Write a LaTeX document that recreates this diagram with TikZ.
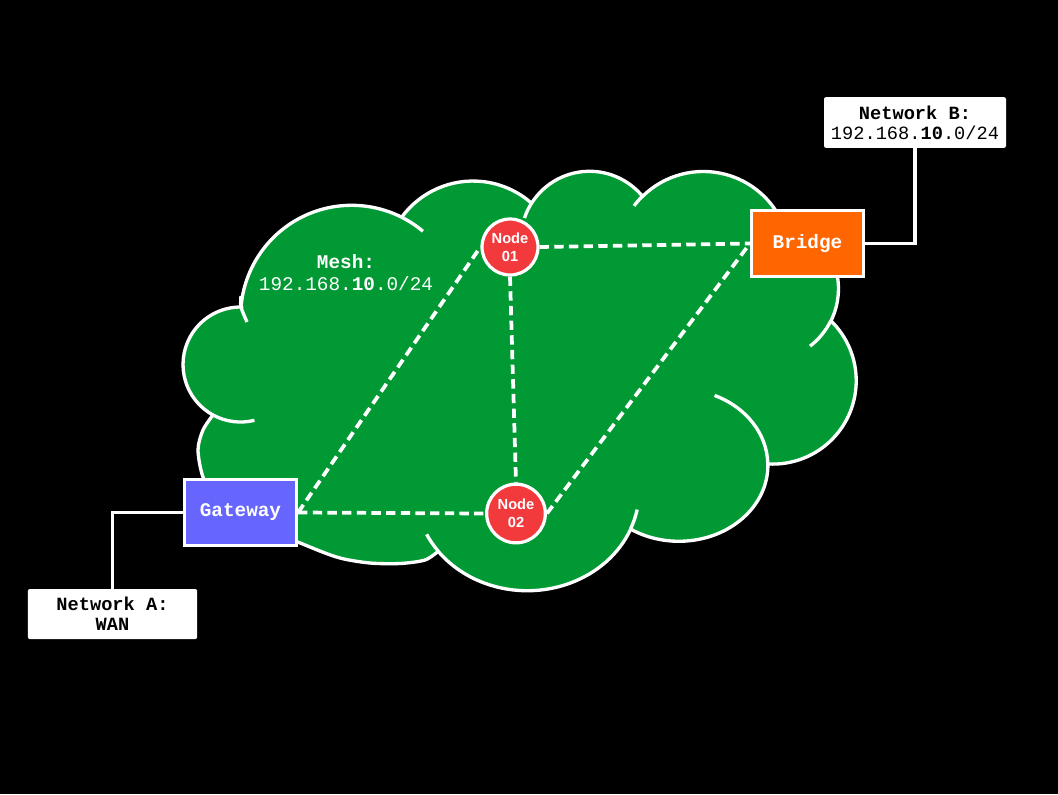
\documentclass[tikz,border=0pt]{standalone}
\usepackage{fontspec}
\setmonofont{Liberation Mono}
\setsansfont{Liberation Sans}
\usepackage{tikz}
\usetikzlibrary{positioning}

\definecolor{meshgreen}{HTML}{009933}
\definecolor{nodered}{HTML}{F23A3C}
\definecolor{gwblue}{HTML}{6666FF}
\definecolor{bridgeorange}{HTML}{FF6600}

\tikzset{
  devbox/.style={draw=white, line width=2.4pt, text=white, font=\ttfamily\bfseries\fontsize{14.5}{17}\selectfont, minimum width=84pt, minimum height=49pt, inner sep=0pt},
  meshnode/.style={circle, draw=white, line width=2.4pt, fill=nodered, text=white, font=\sffamily\bfseries\fontsize{11}{13.7}\selectfont, align=center, inner sep=0pt},
  netlabel/.style={fill=white, rounded corners=1.5pt, text=black, font=\ttfamily\fontsize{14}{15}\selectfont, align=center, inner sep=0pt},
  link/.style={draw=white, line width=2.8pt, dash pattern=on 7pt off 4pt},
  wire/.style={draw=white, line width=2.4pt},
  lobe/.style={draw=white, line width=2.5pt},
}

\begin{document}
\begin{tikzpicture}[x=0.75pt, y=-0.75pt]
    % Background
    \fill[black] (0,0) rectangle (1058,794);

    % Draw cloud
    \filldraw[fill=meshgreen, lobe, line join=round] (241,307)
      arc[start angle=184.8, end angle=296.8, radius=111]
      arc[start angle=216.2, end angle=311.5, radius=88.4]
      arc[start angle=212.3, end angle=320.6, radius=68.6]
      arc[start angle=225.5, end angle=331.7, radius=86.7]
      arc[start angle=281.2, end angle=386.2, radius=73]
      arc[start angle=-45.8, end angle=93.4, radius=83.4]
      arc[start angle=-1, end angle=122.8, x radius=89, y radius=76]
      arc[start angle=22.6, end angle=142.6, x radius=112, y radius=100]
      -- plot [smooth] coordinates {(438.3,551.2) (425,560) (400,563.5) (370,563) (340,558) (310,547) (260,525) (215,495) (203,477) (198,450) (203,430) (213,415)}
      arc[start angle=118.6, end angle=271.5, radius=57.5]
      -- cycle;

    % Inner ends of the lobes
    \draw[lobe] plot [smooth] coordinates {(241,296) (241,307) (247,322)};
    \draw[lobe] (401.6,217.2) arc[start angle=296.8, end angle=310, radius=111];
    \draw[lobe] (531.5,203.2) arc[start angle=212.3, end angle=198.6, radius=68.6];
    \draw[lobe] (642.5,196.2) arc[start angle=225.5, end angle=217, radius=86.7];
    \draw[lobe] (830.8,320.7) arc[start angle=386.2, end angle=412.2, radius=73];
    \draw[lobe] (767.8,463.7) arc[start angle=-1, end angle=-66.3, x radius=89, y radius=76];
    \draw[lobe] (630.6,528.9) arc[start angle=22.6, end angle=11, x radius=112, y radius=100];
    \draw[lobe] (438.3,551.2) arc[start angle=142.6, end angle=154, x radius=112, y radius=100];
    \draw[lobe] (213,415) arc[start angle=118.6, end angle=76, radius=57.5];

    % Mesh label
    \node[text=white, align=center, font=\ttfamily\fontsize{14.5}{16.5}\selectfont] (mesh) at (346,273) {\textbf{Mesh:}\\192.168.\textbf{10}.0/24};

    % Devices
    \node[devbox, fill=gwblue] (gw) at (240.5,512.5) {Gateway};
    \node[devbox, fill=bridgeorange] (br) at (807.5,243.5) {Bridge};
    \node[meshnode, minimum size=42pt] (n1) at (510,247) {Node\\01};
    \node[meshnode, minimum size=44pt] (n2) at (516,513.5) {Node\\02};

    % Outside networks
    \node[netlabel, minimum width=136.5pt, minimum height=38pt] (nb) at (915,122.5) {\textbf{Network B:}\\192.168.\textbf{10}.0/24};
    \node[netlabel, minimum width=127pt, minimum height=37.5pt, font=\ttfamily\bfseries\fontsize{14}{15}\selectfont] (na) at (112.5,614) {Network A:\\WAN};

    % Mesh links
    \draw[link] (gw.east) -- (n1.west);
    \draw[link] (gw.east) -- (n2.west);
    \draw[link] (n1.east) -- (br.west);
    \draw[link] (n1.south) -- (n2.north);
    \draw[link] (n2.east) -- (br.west);

    % Uplinks
    \draw[wire] (br.east) -| (nb.south);
    \draw[wire] (gw.west) -| (na.north);
\end{tikzpicture}
\end{document}
